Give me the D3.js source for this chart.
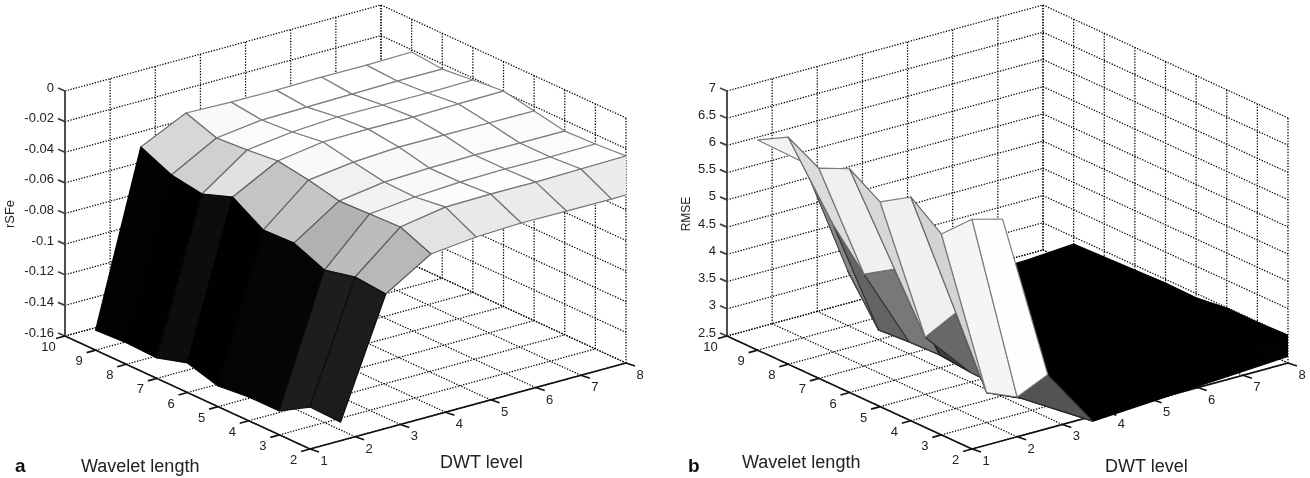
<!DOCTYPE html>
<html>
<head>
<meta charset="utf-8">
<style>
  body { margin: 0; background: #fff; }
  svg { display: block; filter: blur(0.3px); }
  text { font-family: "Liberation Sans", Arial, sans-serif; fill: #222; }
  .grid { stroke: #000; stroke-width: 1.25; stroke-dasharray: 1.3 1.5; fill: none; }
  .axis { stroke: #111; stroke-width: 1.6; fill: none; }
  .zaxis { stroke: #444; stroke-width: 1.8; fill: none; }
  .face { stroke-width: 1.2; stroke-linejoin: round; }
</style>
</head>
<body>
<div id="container"></div>
<script src="https://cdnjs.cloudflare.com/ajax/libs/d3/7.8.5/d3.min.js"></script>
<script>
//-----------------------------[prep]DATA------------------------------//
const waveletTicks = [2, 3, 4, 5, 6, 7, 8, 9, 10];
const dwtTicks = [1, 2, 3, 4, 5, 6, 7, 8];

// surface grid: one row per wavelet value, one column per DWT level
const waveletGrid = [9, 8, 7, 6, 5, 4, 3, 2, 1];
const dwtGrid = [1, 2, 3, 4, 5, 6, 7, 8];

const rsfeTicks = [0, -0.02, -0.04, -0.06, -0.08, -0.1, -0.12, -0.14, -0.16];
const rsfeValues = [
  [-0.147, -0.0354, -0.0212, -0.0221, -0.0223, -0.0218, -0.0220, -0.0215],
  [-0.146, -0.0444, -0.0283, -0.0246, -0.0242, -0.0237, -0.0232, -0.0234],
  [-0.1467, -0.0476, -0.0269, -0.0232, -0.0214, -0.0216, -0.0218, -0.0213],
  [-0.1407, -0.0404, -0.0249, -0.0205, -0.0201, -0.0203, -0.0197, -0.0193],
  [-0.1465, -0.0527, -0.0281, -0.0244, -0.0226, -0.0228, -0.0229, -0.0231],
  [-0.1445, -0.0520, -0.0326, -0.0282, -0.0271, -0.0266, -0.0268, -0.0270],
  [-0.1444, -0.0604, -0.0318, -0.0287, -0.0270, -0.0265, -0.0267, -0.0262],
  [-0.1326, -0.0557, -0.0311, -0.0261, -0.0256, -0.0258, -0.0253, -0.0248],
  [-0.1332, -0.0576, -0.0395, -0.0364, -0.0353, -0.0355, -0.0357, -0.0353]
];

const rmseTicks = [7, 6.5, 6, 5.5, 5, 4.5, 4, 3.5, 3, 2.5];
const rmseValues = [
  [6.36, 5.73, 3.50, 2.74, 2.76, 2.78, 2.81, 2.87],
  [6.67, 4.83, 2.68, 2.75, 2.77, 2.80, 2.85, 2.89],
  [6.36, 4.19, 2.72, 2.76, 2.79, 2.83, 2.87, 2.91],
  [6.61, 4.54, 2.74, 2.78, 2.82, 2.86, 2.90, 2.93],
  [6.26, 3.55, 2.68, 2.75, 2.80, 2.85, 2.89, 2.92],
  [6.61, 4.26, 2.65, 2.76, 2.83, 2.89, 2.94, 2.99],
  [6.19, 3.05, 2.69, 2.78, 2.85, 2.90, 2.95, 2.99],
  [6.72, 3.23, 2.74, 2.82, 2.88, 2.93, 2.97, 3.01],
  [6.98, 3.90, 2.82, 2.87, 2.92, 2.97, 3.02, 3.07]
];

//-----------------------------[prep]SVG------------------------------//
const width = 1310;
const height = 478;

const svg = d3.select("#container").append("svg")
  .attr("width", width)
  .attr("height", height);

const polygon = d3.line();

//-----------------------------[drawing]PANEL------------------------------//
function drawPanel(cfg) {
  const g = svg.append("g").attr("transform", "translate(" + cfg.left + ",0)");

  // oblique projection: each data axis moves the screen point along its own direction
  const zMin = d3.min(cfg.zTicks);
  const zMax = d3.max(cfg.zTicks);
  const wx = d3.scaleLinear().domain([2, 10]).range([0, -245]);
  const wy = d3.scaleLinear().domain([2, 10]).range([0, -113]);
  const lx = d3.scaleLinear().domain([1, 8]).range([0, 316]);
  const ly = d3.scaleLinear().domain([1, 8]).range([0, -86]);
  const zy = d3.scaleLinear().domain([zMin, zMax]).range([0, -245]);

  const project = (w, l, z) => [
    245 + wx(w) + lx(l),
    449 + wy(w) + ly(l) + zy(z)
  ];

  const seg = (a, b, cls) => g.append("path")
    .attr("class", cls)
    .attr("d", polygon([a, b]));

  // back walls and floor
  const wMax = 10, wMin = 2, lMin = 1, lMax = 8;
  cfg.zTicks.forEach(z => {
    seg(project(wMax, lMin, z), project(wMax, lMax, z), "grid");
    seg(project(wMax, lMax, z), project(wMin, lMax, z), "grid");
  });
  dwtTicks.forEach(l => {
    seg(project(wMax, l, zMin), project(wMax, l, zMax), "grid");
    seg(project(wMin, l, zMin), project(wMax, l, zMin), "grid");
  });
  waveletTicks.forEach(w => {
    seg(project(w, lMax, zMin), project(w, lMax, zMax), "grid");
    seg(project(w, lMin, zMin), project(w, lMax, zMin), "grid");
  });

  // axes and tick marks
  seg(project(wMax, lMin, zMin), project(wMax, lMin, zMax), "zaxis");
  seg(project(wMax, lMin, zMin), project(wMin, lMin, zMin), "axis");
  seg(project(wMin, lMin, zMin), project(wMin, lMax, zMin), "axis");

  cfg.zTicks.forEach(z => {
    const p = project(wMax, lMin, z);
    seg([p[0] - 7, p[1] - 3], p, "zaxis");
    g.append("text")
      .attr("x", p[0] - 11)
      .attr("y", p[1] + 0.5)
      .attr("text-anchor", "end")
      .attr("font-size", 13)
      .text(z);
  });
  waveletTicks.forEach(w => {
    const p = project(w, lMin, zMin);
    seg([p[0] - 9, p[1] + 2.5], p, "axis");
    g.append("text")
      .attr("x", p[0] - 16.5)
      .attr("y", p[1] + 15)
      .attr("text-anchor", "middle")
      .attr("font-size", 13)
      .text(w);
  });
  dwtTicks.forEach(l => {
    const p = project(wMin, l, zMin);
    seg(p, [p[0] + 9, p[1] + 3], "axis");
    g.append("text")
      .attr("x", p[0] + 14)
      .attr("y", p[1] + 16)
      .attr("text-anchor", "middle")
      .attr("font-size", 13)
      .text(l);
  });

  // surface, back to front, cut at the right hand edge of the box
  const clipId = "clip-" + cfg.letter;
  g.append("clipPath").attr("id", clipId)
    .append("rect")
    .attr("x", -cfg.left)
    .attr("y", 0)
    .attr("width", cfg.left + project(wMin, lMax, zMin)[0])
    .attr("height", height);

  const surface = g.append("g").attr("clip-path", "url(#" + clipId + ")");
  const shade = d3.scaleLinear().domain(cfg.shadeDomain).range(cfg.shadeRange).clamp(true);

  for (let c = dwtGrid.length - 2; c >= 0; c--) {
    for (let r = 0; r < waveletGrid.length - 1; r++) {
      const pts = [
        [r, c], [r + 1, c], [r + 1, c + 1], [r, c + 1]
      ].map(d => project(waveletGrid[d[0]], dwtGrid[d[1]], cfg.values[d[0]][d[1]]));
      const v = Math.round(shade(cfg.values[r + 1][c]));
      // edge is a darker copy of the fill so it vanishes on the black faces
      const e = Math.round(v * 0.5);
      surface.append("path")
        .attr("class", "face")
        .attr("d", polygon(pts) + "Z")
        .attr("fill", d3.rgb(v, v, v))
        .attr("stroke", d3.rgb(e, e, e));
    }
  }

  // titles
  g.append("text")
    .attr("transform", "translate(" + cfg.zLabelX + ",214) rotate(-90)")
    .attr("text-anchor", "middle")
    .attr("font-size", cfg.zLabelSize)
    .text(cfg.zLabel);

  g.append("text")
    .attr("x", cfg.letterX)
    .attr("y", 472)
    .attr("font-size", 19)
    .attr("font-weight", "bold")
    .style("fill", "#111")
    .text(cfg.letter);

  g.append("text")
    .attr("x", cfg.waveletX)
    .attr("y", cfg.waveletY)
    .attr("font-size", 18)
    .text("Wavelet length");

  g.append("text")
    .attr("x", cfg.dwtX)
    .attr("y", cfg.dwtY)
    .attr("font-size", 18)
    .text("DWT level");
}

drawPanel({
  left: 65,
  letter: "a",
  letterX: -50,
  zTicks: rsfeTicks,
  values: rsfeValues,
  zLabel: "rSFe",
  zLabelX: -51,
  zLabelSize: 13,
  shadeDomain: [-0.147, -0.06, -0.04, -0.03, -0.024],
  shadeRange: [0, 178, 226, 246, 255],
  waveletX: 16,
  waveletY: 472,
  dwtX: 375,
  dwtY: 468
});

drawPanel({
  left: 727,
  letter: "b",
  letterX: -39,
  zTicks: rmseTicks,
  values: rmseValues,
  zLabel: "RMSE",
  zLabelX: -37,
  zLabelSize: 12,
  shadeDomain: [3.0, 3.55, 4.5, 6.2, 6.4, 6.6, 7],
  shadeRange: [0, 62, 118, 212, 222, 240, 255],
  waveletX: 15,
  waveletY: 468,
  dwtX: 378,
  dwtY: 472
});
</script>
</body>
</html>
